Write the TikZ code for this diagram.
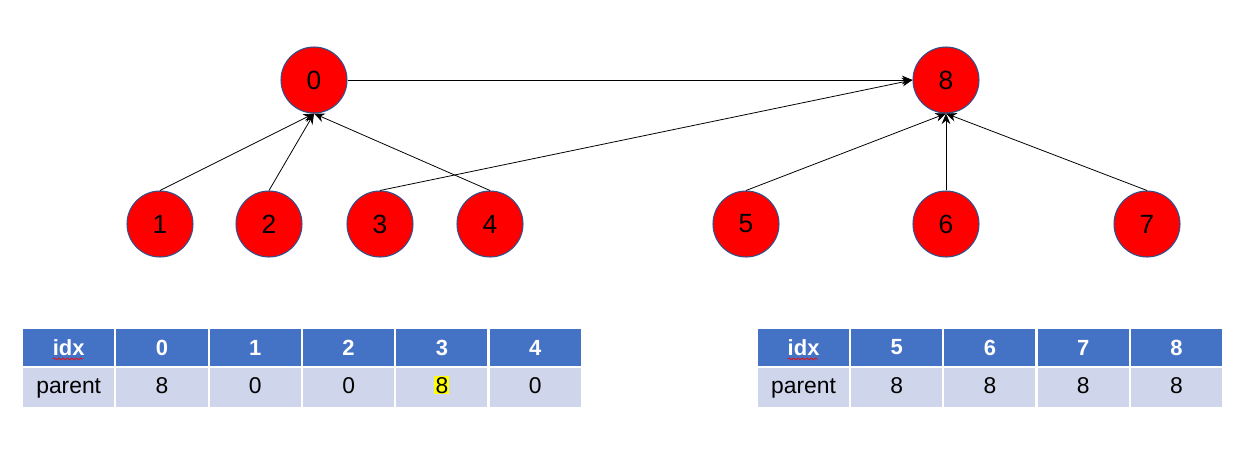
\documentclass[tikz,border=0pt]{standalone}
\usepackage{fontspec}
\setmainfont{Liberation Sans}
\usepackage{tikz}
\usetikzlibrary{
  arrows.meta,
  positioning,
  decorations.pathmorphing
}
\definecolor{xnode}{RGB}{255,0,0}
\definecolor{xrim}{RGB}{47,82,143}
\definecolor{xhead}{RGB}{68,114,196}
\definecolor{xbody}{RGB}{207,213,234}
\definecolor{xmark}{RGB}{255,255,0}
\newcommand{\hlmark}[1]{{\setlength{\fboxsep}{0.6pt}\colorbox{xmark}{#1}}}

\begin{document}
\begin{tikzpicture}[x=0.02cm, y=-0.02cm,
  elem/.style={circle, draw=xrim, line width=0.6pt, fill=xnode, minimum size=1.32cm,
               inner sep=0pt, font=\fontsize{15}{17}\selectfont},
  arr/.style={-{Stealth[length=6pt,width=5pt]}, line width=0.45pt, color=black},
  headcell/.style={draw=white, line width=1.2pt, fill=xhead, minimum width=1.867cm,
                   minimum height=0.78cm, inner sep=0pt, text=white,
                   font=\fontsize{12.5}{14}\selectfont\bfseries},
  bodycell/.style={draw=white, line width=1.2pt, fill=xbody, minimum width=1.867cm,
                   minimum height=0.82cm, inner sep=0pt, text height=1.6ex, text depth=0.4ex,
                   font=\fontsize{13}{15}\selectfont},
  typo/.style={draw=red, line width=0.4pt,
               decorate, decoration={snake, amplitude=0.5pt, segment length=2.5pt}}
]
  \useasboundingbox (0,0) rectangle (1245,454);

  % the forest
  \node[elem] (n0) at (314,80)  {0};
  \node[elem] (n8) at (946,80)  {8};
  \node[elem] (n1) at (160,224) {1};
  \node[elem] (n2) at (269,224) {2};
  \node[elem] (n3) at (380,224) {3};
  \node[elem] (n4) at (490,224) {4};
  \node[elem] (n5) at (746,224) {5};
  \node[elem] (n6) at (946,224) {6};
  \node[elem] (n7) at (1147,224) {7};

  \draw[arr] (n1.north) -- (n0.south);
  \draw[arr] (n2.north) -- (n0.south);
  \draw[arr] (n4.north) -- (n0.south);
  \draw[arr] (n0.east)  -- (n8.west);
  \draw[arr] (n3.north) -- (n8.west);
  \draw[arr] (n5.north) -- (n8.south);
  \draw[arr] (n6.north) -- (n8.south);
  \draw[arr] (n7.north) -- (n8.south);

  % left table
  \node[headcell] (lh) at (68.7,347.5) {idx};
  \node[bodycell] (lb) at (68.7,387.5) {parent};
  \foreach \i/\p [count=\k from 0] in {0/8,1/0,2/0,3/\hlmark{8},4/0} {
    \node[headcell] (lh\k) at (162+93.3*\k,347.5) {\i};
    \node[bodycell] (lb\k) at (162+93.3*\k,387.5) {\p};
  }
  \draw[typo] ([xshift=-9pt,yshift=-6.5pt]lh.center) -- ([xshift=8pt,yshift=-6.5pt]lh.center);

  % right table
  \node[headcell] (rh) at (803.6,347.5) {idx};
  \node[bodycell] (rb) at (803.6,387.5) {parent};
  \foreach \i [count=\k from 0] in {5,6,7,8} {
    \node[headcell] (rh\k) at (896.8+93.2*\k,347.5) {\i};
    \node[bodycell] (rb\k) at (896.8+93.2*\k,387.5) {8};
  }
  \draw[typo] ([xshift=-9pt,yshift=-6.5pt]rh.center) -- ([xshift=8pt,yshift=-6.5pt]rh.center);
\end{tikzpicture}
\end{document}
